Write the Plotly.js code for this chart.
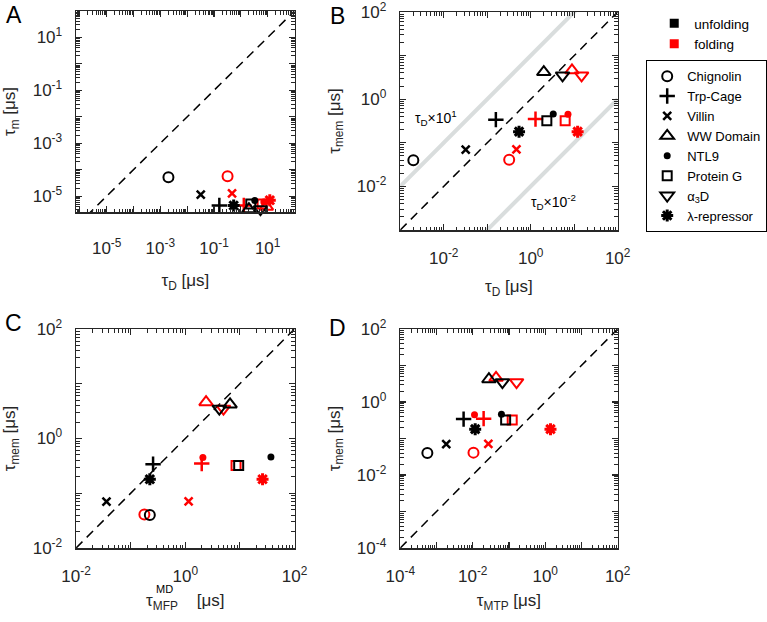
<!DOCTYPE html>
<html><head><meta charset="utf-8">
<script src="https://cdn.plot.ly/plotly-3.0.1.min.js"></script>
<style>html,body{margin:0;padding:0;background:#fff}#chart{width:767px;height:622px}</style>
</head><body><div id="chart"></div>
<script>
// ---------------- data ----------------
const proteins = ['Chignolin','Trp-Cage','Villin','WW Domain','NTL9','Protein G','α<sub>3</sub>D','λ-repressor'];
const symbols  = ['circle-open','cross-thin-open','x-thin-open','triangle-up-open','circle','square-open','triangle-down-open','asterisk-open'];

// tau_D [us] (panels A and B, x)
const tauD_unf  = [0.0020, 0.158, 0.032, 2.0, 3.3, 2.35, 5.4, 0.54];
const tauD_fold = [0.32, 1.29, 0.47, 8.9, 7.2, 6.2, 14.8, 12.0];
// tau_m [us] (panel A, y)
const tauM_unf  = [5.2e-5, 4.4e-6, 1.15e-5, 3.2e-6, 6.8e-6, 5.0e-6, 3.2e-6, 4.4e-6];
const tauM_fold = [5.6e-5, 4.4e-6, 1.26e-5, 4.0e-6, 6.0e-6, 5.0e-6, 2.5e-6, 7.0e-6];
// tau_mem [us] (panels B, C, D, y)
const tauMem_unf  = [0.040, 0.34, 0.070, 4.2, 0.46, 0.32, 3.5, 0.18];
const tauMem_fold = [0.041, 0.35, 0.071, 4.6, 0.45, 0.32, 3.5, 0.18];
// tau_MFP^MD [us] (panel C, x)
const tauMFP_unf  = [0.224, 0.257, 0.036, 6.6, 37, 9.5, 4.2, 0.224];
const tauMFP_fold = [0.178, 2.0, 1.15, 2.4, 2.1, 8.5, 5.0, 26];
// tau_MTP [us] (panel D, x)
const tauMTP_unf  = [0.00056, 0.0056, 0.00186, 0.028, 0.062, 0.081, 0.066, 0.0117];
const tauMTP_fold = [0.0105, 0.020, 0.027, 0.044, 0.0112, 0.123, 0.162, 1.40];

// axis limits (log10)
const limA_x = [-6.14, 2], limA_y = [-5.6, 2];
const limB = [-3, 2], limC = [-2, 2], limD = [-4, 2];
const guideFactors = [10, 0.01];

// ---------------- styling ----------------
const BLACK = '#000000', RED = '#ff0000', AXC = '#262626';
const FONT = 'Liberation Sans, Arial, Helvetica, sans-serif';
const W = 767, H = 622;
const px = (x, y) => ({x: x / W, y: 1 - y / H});
const NB = '\u00A0';

const symSize  = [10, 11, 8, 12, 7, 9, 12, 10];
const symWidth = [2, 2.5, 2.5, 2, 0, 2, 2, 3];

function decadeTicks(lim, labelEvery, labelStart) {
  const vals = [], text = [];
  for (let e = Math.ceil(lim[0] - 1e-9); e <= Math.floor(lim[1] + 1e-9); e++) {
    vals.push(Math.pow(10, e));
    text.push(((e - labelStart) % labelEvery === 0) ? '10<sup>' + e + '</sup>' : '');
  }
  return {vals, text};
}
function minorVals(lim) {
  const v = [];
  for (let e = Math.floor(lim[0]); e <= Math.ceil(lim[1]); e++)
    for (let m = 2; m <= 9; m++) { const t = m * Math.pow(10, e); if (Math.log10(t) > lim[0] && Math.log10(t) < lim[1]) v.push(t); }
  return v;
}
function axis(lim, domain, anchor, title, labelEvery, labelStart, standoff, tls) {
  const t = decadeTicks(lim, labelEvery, labelStart);
  return {
    type: 'log', range: [lim[0] - 1e-6, lim[1] + 1e-6], domain, anchor, autorange: false,
    showline: true, linecolor: AXC, linewidth: 1.5, mirror: 'ticks',
    ticks: 'inside', ticklen: 6, tickwidth: 1.1, tickcolor: AXC,
    tickvals: t.vals, ticktext: t.text, ticklabelstandoff: tls, ticklabeloverflow: 'allow',
    minor: {ticks: 'inside', ticklen: 3.5, tickwidth: 1, tickcolor: AXC, tickvals: minorVals(lim), showgrid: false},
    showgrid: false, zeroline: false,
    tickfont: {family: FONT, size: 17, color: AXC},
    title: {text: title, font: {family: FONT, size: 17, color: AXC}, standoff: standoff}
  };
}

const panels = [
  {xa: 'x',  ya: 'y',  xu: tauD_unf,   xf: tauD_fold,   yu: tauM_unf,   yf: tauM_fold,   lx: limA_x, ly: limA_y},
  {xa: 'x2', ya: 'y2', xu: tauD_unf,   xf: tauD_fold,   yu: tauMem_unf, yf: tauMem_fold, lx: limB,   ly: limB},
  {xa: 'x3', ya: 'y3', xu: tauMFP_unf, xf: tauMFP_fold, yu: tauMem_unf, yf: tauMem_fold, lx: limC,   ly: limC},
  {xa: 'x4', ya: 'y4', xu: tauMTP_unf, xf: tauMTP_fold, yu: tauMem_unf, yf: tauMem_fold, lx: limD,   ly: limD}
];

const traces = [];
guideFactors.forEach(f => {
  const xs = [Math.pow(10, limB[0]), Math.pow(10, limB[1])];
  traces.push({x: xs, y: xs.map(v => v * f), xaxis: 'x2', yaxis: 'y2', mode: 'lines',
    line: {color: '#d9dddd', width: 4}, showlegend: false, hoverinfo: 'skip'});
});
panels.forEach(p => {
  const lo = Math.pow(10, Math.min(p.lx[0], p.ly[0])), hi = Math.pow(10, Math.max(p.lx[1], p.ly[1]));
  traces.push({x: [lo, hi], y: [lo, hi], xaxis: p.xa, yaxis: p.ya, mode: 'lines',
    line: {color: BLACK, width: 1.5, dash: '9px,6px'}, showlegend: false, hoverinfo: 'skip'});
});
panels.forEach(p => {
  [[p.xf, p.yf, RED, 'folding'], [p.xu, p.yu, BLACK, 'unfolding']].forEach(([xs, ys, c, nm]) => {
    traces.push({
      x: xs, y: ys, xaxis: p.xa, yaxis: p.ya, mode: 'markers', name: nm, showlegend: false,
      text: proteins, cliponaxis: false,
      marker: {symbol: symbols, size: symSize, opacity: 1, color: c, line: {color: c, width: symWidth}}
    });
  });
});
proteins.forEach((nm, i) => {
  traces.push({x: [null], y: [null], xaxis: 'x', yaxis: 'y', mode: 'markers', name: nm, legend: 'legend',
    marker: {symbol: symbols[i], size: symSize[i], opacity: 1, color: BLACK, line: {color: BLACK, width: symWidth[i]}}});
});
[[BLACK, 'unfolding'], [RED, 'folding']].forEach(([c, nm]) => {
  traces.push({x: [null], y: [null], xaxis: 'x', yaxis: 'y', mode: 'markers', name: nm, legend: 'legend2',
    marker: {symbol: 'square', size: 9, opacity: 1, color: c}});
});

const dA_x = [77 / W, 298 / W], dA_y = [1 - 212 / H, 1 - 11 / H];
const dB_x = [405 / W, 625 / W], dB_y = [1 - 230 / H, 1 - 12 / H];
const dC_x = [77 / W, 298 / W], dC_y = [1 - 548 / H, 1 - 329 / H];
const dD_x = [405 / W, 625 / W], dD_y = [1 - 548 / H, 1 - 329 / H];

const ann = (x, y, text, size, extra) => Object.assign({xref: 'paper', yref: 'paper', x: px(x, y).x, y: px(x, y).y,
  text, showarrow: false, font: {family: FONT, size, color: '#000'}, xanchor: 'center', yanchor: 'middle'}, extra || {});

const layout = {
  width: W, height: H, margin: {l: 0, r: 0, t: 0, b: 0}, paper_bgcolor: '#fff', plot_bgcolor: '#fff',
  showlegend: true,
  xaxis:  axis(limA_x, dA_x, 'y',  'τ<sub>D</sub> [μs]', 2, -5, 17, 20),
  yaxis:  axis(limA_y, dA_y, 'x',  'τ<sub>m</sub> [μs]', 2, -5, 20, 9),
  xaxis2: axis(limB, dB_x, 'y2', 'τ<sub>D</sub> [μs]', 2, -2, 13, 12),
  yaxis2: axis(limB, dB_y, 'x2', 'τ<sub>mem</sub> [μs]', 2, -2, 12, 9),
  xaxis3: axis(limC, dC_x, 'y3', 'τ<sub>MFP</sub>' + NB + NB + NB + NB + '[μs]', 2, -2, 9, 12),
  yaxis3: axis(limC, dC_y, 'x3', 'τ<sub>mem</sub> [μs]', 2, -2, 17, 9),
  xaxis4: axis(limD, dD_x, 'y4', 'τ<sub>MTP</sub> [μs]', 2, -4, 9, 12),
  yaxis4: axis(limD, dD_y, 'x4', 'τ<sub>mem</sub> [μs]', 2, -4, 12, 9),
  legend: {x: 654 / W, y: 1 - 60 / H, xanchor: 'left', yanchor: 'top', bgcolor: '#fff',
    bordercolor: '#000', borderwidth: 1.2, font: {family: FONT, size: 13, color: '#000'}, tracegroupgap: 0, itemclick: false},
  legend2: {x: 662 / W, y: 1 - 8 / H, xanchor: 'left', yanchor: 'top', bgcolor: 'rgba(0,0,0,0)',
    borderwidth: 0, font: {family: FONT, size: 13.5, color: '#000'}, itemclick: false},
  annotations: [
    ann(14, 15, 'A', 23), ann(342, 16, 'B', 23), ann(14, 323, 'C', 23), ann(342, 328, 'D', 23),
    ann(441, 118, 'τ<sub>D</sub>×10<sup>1</sup>', 14),
    ann(560, 202, 'τ<sub>D</sub>×10<sup>-2</sup>', 14),
    ann(156, 589, 'MD', 11, {xanchor: 'left'})
  ]
};

Plotly.newPlot('chart', traces, layout, {displayModeBar: false, staticPlot: true});
</script></body></html>
